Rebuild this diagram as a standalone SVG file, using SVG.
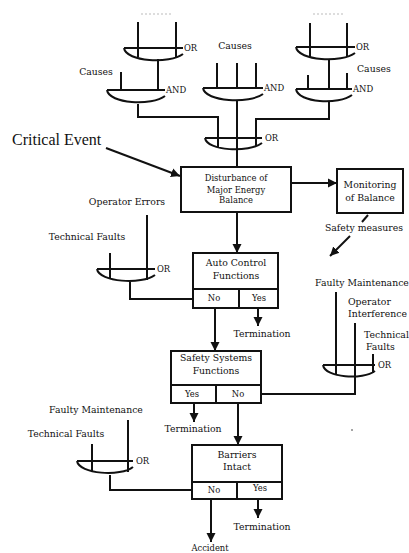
<svg xmlns="http://www.w3.org/2000/svg" width="409" height="553" viewBox="0 0 409 553">
  <defs>
    <style>
      .ln { fill: none; stroke: #111; stroke-width: 2; }
      .box { fill: #fff; stroke: #111; stroke-width: 2; }
      .t { font-family: "DejaVu Serif", "Liberation Serif", serif; font-size: 9.3px; fill: #111; }
      .g { font-family: "DejaVu Serif", "Liberation Serif", serif; font-size: 8.4px; fill: #111; }
      .c { text-anchor: middle; }
      .faint { stroke: #bbb; stroke-width: 1; stroke-dasharray: 2 2; }
    </style>
    <marker id="ah" viewBox="0 0 10 10" refX="10" refY="5" markerWidth="9" markerHeight="11" markerUnits="userSpaceOnUse" orient="auto">
      <path d="M0,0 L10,5 L0,10 Z" fill="#111"/>
    </marker>
  </defs>

  <!-- faint cut-off marks above the top gates -->
  <path class="faint" d="M141,14 H173 M313,14 H345"/>

  <!-- logic gates: flat top line with a curved bowl beneath -->
  <g id="gate-or-top-left">
    <path class="ln" d="M124,48 H183 M124,48 C126,62 170,64 183,54 M138,22 V57 M176,22 V57"/>
    <text class="g" x="184" y="51">OR</text>
  </g>
  <g id="gate-and-left">
    <path class="ln" d="M107,90 H165 M107,90 C109,104 152,106 165,96 M121,72 V90 M158,59 V90"/>
    <text class="t c" x="96" y="75">Causes</text>
    <text class="g" x="166" y="93">AND</text>
  </g>
  <g id="gate-and-middle">
    <path class="ln" d="M203,88 H263 M203,88 C205,102 250,104 263,94 M217,63 V88 M237,63 V88 M256,63 V88"/>
    <text class="t c" x="235" y="49">Causes</text>
    <text class="g" x="264" y="91">AND</text>
  </g>
  <g id="gate-or-top-right">
    <path class="ln" d="M296,47 H355 M296,47 C298,61 342,63 355,53 M310,23 V57 M347,23 V57"/>
    <text class="g" x="356" y="50">OR</text>
  </g>
  <g id="gate-and-right">
    <path class="ln" d="M296,89 H352 M296,89 C298,103 339,105 352,95 M308,75 V89 M347,73 V89 M329,61 V89"/>
    <text class="t" x="357" y="72">Causes</text>
    <text class="g" x="353" y="92">AND</text>
  </g>
  <g id="gate-or-main">
    <path class="ln" d="M205,138 H262 M205,138 C207,151 249,153 262,143 M218,138 V147 M256,138 V147"/>
    <text class="g" x="265" y="141">OR</text>
  </g>
  <g id="gate-or-auto">
    <path class="ln" d="M97,269 H155 M97,269 C99,282 142,285 155,275 M110,253 V279 M147,215 V280"/>
    <text class="t c" x="127" y="205">Operator Errors</text>
    <text class="t c" x="87" y="240">Technical Faults</text>
    <text class="g" x="157" y="272">OR</text>
  </g>
  <g id="gate-or-safety">
    <path class="ln" d="M323,365 H375 M323,365 C325,378 363,380 375,371 M336,292 V375 M373,354 V373"/>
    <text class="t c" x="362" y="286">Faulty Maintenance</text>
    <text class="t" x="348" y="305">Operator</text>
    <text class="t" x="348" y="317">Interference</text>
    <text class="t" x="364" y="338" font-size="8.8">Technical</text>
    <text class="t" x="366" y="350">Faults</text>
    <text class="g" x="378" y="368">OR</text>
  </g>
  <g id="gate-or-barriers">
    <path class="ln" d="M77,461 H133 M77,461 C79,474 121,477 133,467 M92,444 V472 M128,420 V472"/>
    <text class="t c" x="96" y="413">Faulty Maintenance</text>
    <text class="t c" x="66" y="437">Technical Faults</text>
    <text class="g" x="136" y="464">OR</text>
  </g>

  <!-- event boxes -->
  <g id="node-disturbance">
    <rect class="box" x="181" y="167" width="110" height="45" stroke-width="2.5"/>
    <text class="g c" x="236" y="181">Disturbance of</text>
    <text class="g c" x="236" y="193">Major Energy</text>
    <text class="g c" x="236" y="203">Balance</text>
  </g>
  <g id="node-monitoring">
    <rect class="box" x="337" y="169" width="66" height="44"/>
    <text class="t c" x="370" y="188">Monitoring</text>
    <text class="t c" x="370" y="201">of Balance</text>
  </g>
  <g id="node-auto-control">
    <rect class="box" x="193" y="253" width="85" height="55"/>
    <path class="ln" d="M193,289 H278 M239,289 V308"/>
    <text class="t c" x="236" y="266">Auto Control</text>
    <text class="t c" x="236" y="279">Functions</text>
    <text class="g c" x="214" y="301">No</text>
    <text class="g c" x="259" y="301">Yes</text>
  </g>
  <g id="node-safety-systems">
    <rect class="box" x="171" y="351" width="90" height="52"/>
    <path class="ln" d="M171,385 H261 M216,385 V403"/>
    <text class="t c" x="216" y="361">Safety Systems</text>
    <text class="t c" x="216" y="374">Functions</text>
    <text class="g c" x="192" y="397">Yes</text>
    <text class="g c" x="238" y="397">No</text>
  </g>
  <g id="node-barriers">
    <rect class="box" x="192" y="445" width="90" height="54"/>
    <path class="ln" d="M192,482 H282 M237,482 V499"/>
    <text class="t c" x="237" y="458">Barriers</text>
    <text class="t c" x="237" y="470">Intact</text>
    <text class="g c" x="214" y="493">No</text>
    <text class="g c" x="260" y="491">Yes</text>
  </g>

  <!-- free labels -->
  <g id="labels">
    <text x="12" y="145" font-family="Liberation Serif, serif" font-size="16" fill="#111">Critical Event</text>
    <text class="t c" x="364" y="231">Safety measures</text>
    <text class="t c" x="262" y="337">Termination</text>
    <text class="t c" x="193" y="432">Termination</text>
    <text class="t c" x="262" y="530">Termination</text>
    <text class="g c" x="210" y="551">Accident</text>
  </g>

  <!-- connectors -->
  <g id="connectors">
    <path class="ln" d="M158,60 V90"/>
    <path class="ln" d="M138,104 V117 H218 V147"/>
    <path class="ln" d="M329,60 V89"/>
    <path class="ln" d="M329,102 V119 H256 V138"/>
    <path class="ln" d="M237,101 V167"/>
    <path class="ln" d="M130,282 V299 H193"/>
    <path class="ln" d="M355,323 V394 H261"/>
    <path class="ln" d="M110,475 V490 H192"/>
    <path class="ln" d="M368,215 L362,222"/>
    <path class="ln" marker-end="url(#ah)" d="M106,148 L180,176"/>
    <path class="ln" marker-end="url(#ah)" d="M291,183 H337"/>
    <path class="ln" marker-end="url(#ah)" d="M350,236 L330,256"/>
    <path class="ln" marker-end="url(#ah)" d="M237,212 V253"/>
    <path class="ln" marker-end="url(#ah)" d="M215,308 V351"/>
    <path class="ln" marker-end="url(#ah)" d="M258,308 V326"/>
    <path class="ln" marker-end="url(#ah)" d="M194,403 V422"/>
    <path class="ln" marker-end="url(#ah)" d="M238,403 V445"/>
    <path class="ln" marker-end="url(#ah)" d="M211,499 V542"/>
    <path class="ln" marker-end="url(#ah)" d="M258,499 V518"/>
  </g>
  <circle cx="352" cy="430" r="0.8" fill="#333"/>
</svg>
